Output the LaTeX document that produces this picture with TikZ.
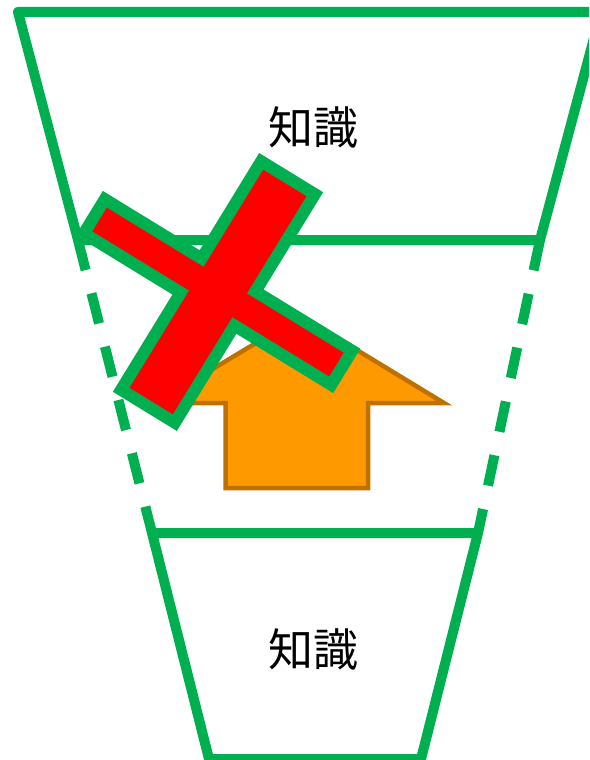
\documentclass[tikz,border=0pt]{standalone}
\usepackage{fontspec}
\newfontfamily\cjk{Noto Sans CJK JP}
\definecolor{grn}{RGB}{0,176,80}
\definecolor{org}{RGB}{255,153,0}
\definecolor{orgline}{RGB}{191,113,0}
\definecolor{xred}{RGB}{255,0,0}
\begin{document}
\begin{tikzpicture}[x=1pt,y=-1pt,
  frame/.style={draw=grn, line width=10pt, line join=round},
  dashside/.style={draw=grn, line width=10pt, dash pattern=on 31pt off 24pt},
  housearrow/.style={draw=orgline, fill=org, line width=4.5pt, line join=miter},
  crossmark/.style={draw=grn, fill=xred, line width=12pt, line join=miter},
  lbl/.style={font=\cjk\fontsize{45}{54}\selectfont, inner sep=0pt, text=black}]
\useasboundingbox (0,0) rectangle (589,760);
\clip (0,0) rectangle (589,760);
% top trapezoid
\coordinate (tTL) at (18,12);
\coordinate (tTR) at (601,12);
\coordinate (tBR) at (540,240);
\coordinate (tBL) at (78,240);
\draw[frame] (tBL) -- (tTL) -- (tTR) -- (tBR) -- cycle;
% bottom trapezoid
\coordinate (bTL) at (152,533);
\coordinate (bTR) at (478,533);
\coordinate (bBR) at (421,759);
\coordinate (bBL) at (209,759);
\draw[frame] (bTL) -- (bTR) -- (bBR) -- (bBL) -- cycle;
% dashed sides
\draw[dashside] (tBL) -- (bTL);
\draw[dashside] (tBR) -- (bTR);
% labels
\node[lbl] (k1) at (313,127) {知識};
\node[lbl] (k2) at (313,649) {知識};
% orange up arrow
\draw[housearrow] (225.5,488) -- (225.5,403) -- (156,403) -- (301,316) -- (444,403) -- (368,403) -- (368,488) -- cycle;
% red cross
\begin{scope}[shift={(218,292)}, rotate=-31.5]
\draw[crossmark] (-145,-20) -- (-31.5,-20) -- (-31.5,-134) -- (31.5,-134) -- (31.5,-20) -- (145,-20) -- (145,20) -- (31.5,20) -- (31.5,134) -- (-31.5,134) -- (-31.5,20) -- (-145,20) -- cycle;
\end{scope}
\end{tikzpicture}
\end{document}
